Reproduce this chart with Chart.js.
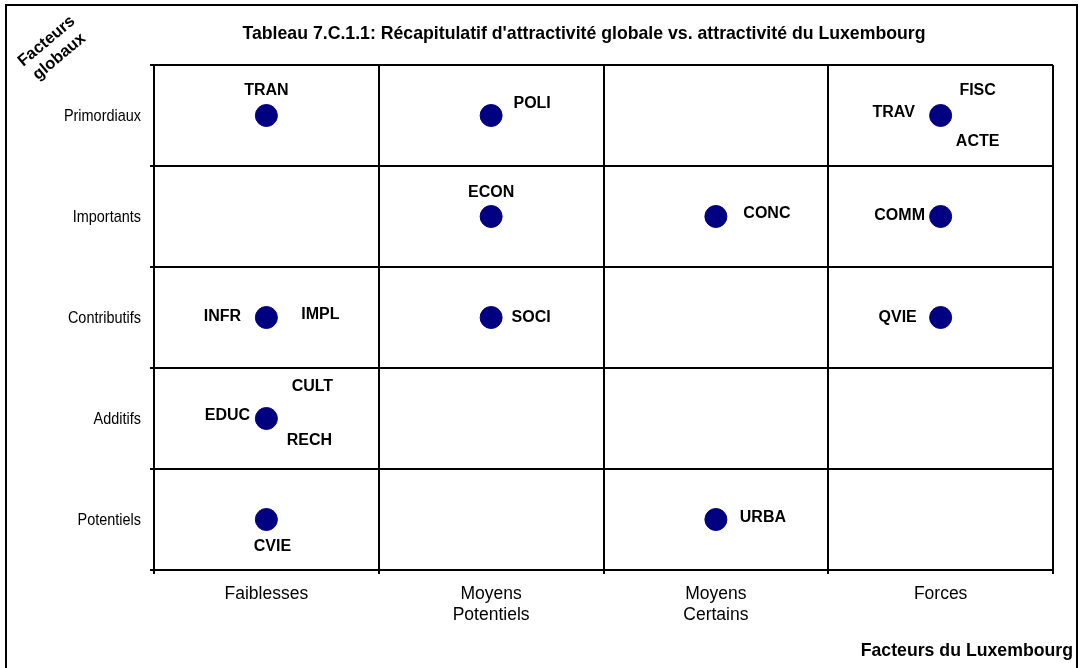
<!DOCTYPE html>
<html>
<head>
<meta charset="utf-8">
<script src="https://cdn.jsdelivr.net/npm/chart.js@4.4.1/dist/chart.umd.min.js"></script>
<style>
  html, body { margin: 0; padding: 0; background: #fff; }
  #conteneur { width: 1080px; height: 668px; position: relative; }
</style>
</head>
<body>
<div id="conteneur"><canvas id="attractiviteChart"></canvas></div>
<script>
// Catégories des deux axes
const facteursLux = ["Faiblesses", "Moyens Potentiels", "Moyens Certains", "Forces"];
const facteursGlobaux = ["Primordiaux", "Importants", "Contributifs", "Additifs", "Potentiels"];

// Un point par case occupée
const pointsX = ["Faiblesses", "Moyens Potentiels", "Forces",
                 "Moyens Potentiels", "Moyens Certains", "Forces",
                 "Faiblesses", "Moyens Potentiels", "Forces",
                 "Faiblesses",
                 "Faiblesses", "Moyens Certains"];
const pointsY = ["Primordiaux", "Primordiaux", "Primordiaux",
                 "Importants", "Importants", "Importants",
                 "Contributifs", "Contributifs", "Contributifs",
                 "Additifs",
                 "Potentiels", "Potentiels"];
// Codes des facteurs rattachés à chaque point
const etiquettes = [["TRAN"], ["POLI"], ["FISC", "TRAV", "ACTE"],
                    ["ECON"], ["CONC"], ["COMM"],
                    ["INFR", "IMPL"], ["SOCI"], ["QVIE"],
                    ["CULT", "EDUC", "RECH"],
                    ["CVIE"], ["URBA"]];

// placement des codes autour du point (px)
const decalages = [[[0, -25]], [[41, -12]], [[37, -25], [-47, -3], [37, 26]],
                   [[0, -24]], [[51, -3]], [[-41, -1]],
                   [[-44, -1], [54, -3]], [[40, 0]], [[-43, 0]],
                   [[46, -32], [-39, -3], [43, 22]],
                   [[6, 27]], [[47, -2]]];

const titre = "Tableau 7.C.1.1: Récapitulatif d'attractivité globale vs. attractivité du Luxembourg";
const police = '"Liberation Sans", Arial, sans-serif';

const textesPlugin = {
    id: "textesPlugin",
    afterDatasetsDraw(chart) {
        const ctx = chart.ctx;
        const meta = chart.getDatasetMeta(0);
        ctx.save();
        ctx.fillStyle = "#000";
        ctx.font = "bold 16px " + police;
        ctx.textAlign = "center";
        ctx.textBaseline = "middle";
        meta.data.forEach((pt, i) => {
            etiquettes[i].forEach((txt, j) => {
                const [dx, dy] = decalages[i][j];
                ctx.fillText(txt, pt.x + dx, pt.y + dy);
            });
        });
        ctx.restore();
    },
    afterDraw(chart) {
        const ctx = chart.ctx;
        ctx.save();
        // cadre extérieur
        ctx.strokeStyle = "#000";
        ctx.lineWidth = 2;
        ctx.strokeRect(6, 5, 1071, 670);

        // libellés de l'axe vertical, police étroite (simulée)
        const sy = chart.scales.y;
        ctx.fillStyle = "#000";
        ctx.font = "17px " + police;
        ctx.textAlign = "right";
        ctx.textBaseline = "middle";
        sy.ticks.forEach((t, i) => {
            ctx.save();
            ctx.translate(sy.right - 13, sy.getPixelForTick(i) + 1);
            ctx.scale(0.85, 1);
            ctx.fillText(sy.getLabelForValue(t.value), 0, 0);
            ctx.restore();
        });

        ctx.font = "bold 17.7px " + police;
        ctx.textAlign = "center";
        ctx.fillText(titre, 584, 34);

        ctx.textAlign = "right";
        ctx.fillText("Facteurs du Luxembourg", 1073, 651);

        // titre de l'axe vertical, en diagonale
        ctx.font = "bold 16.5px " + police;
        ctx.translate(53, 49);
        ctx.rotate(-40 * Math.PI / 180);
        ctx.textAlign = "center";
        ctx.fillText("Facteurs", 0, -10);
        ctx.fillText("globaux", 0, 10);
        ctx.restore();
    }
};

const ctx1 = document.getElementById("attractiviteChart").getContext("2d");
new Chart(ctx1, {
    type: "scatter",
    data: {
        datasets: [{
            data: pointsX.map((x, i) => ({ x: x, y: pointsY[i] })),
            backgroundColor: "#000080",
            borderColor: "#000080",
            pointRadius: 11,
            pointHoverRadius: 11
        }]
    },
    options: {
        responsive: true,
        maintainAspectRatio: false,
        animation: false,
        layout: { padding: { top: 65, right: 27, left: 0, bottom: 0 } },
        plugins: {
            legend: { display: false },
            tooltip: { enabled: false }
        },
        scales: {
            x: {
                type: "category",
                labels: facteursLux,
                offset: true,
                grid: { offset: true, color: "#000", lineWidth: 2, tickLength: 4 },
                border: { color: "#000", width: 2 },
                ticks: {
                    color: "#000",
                    padding: 10,
                    maxRotation: 0,
                    font: { family: police, size: 17.5 },
                    lineHeight: 1.15,
                    callback: function (v) { return this.getLabelForValue(v).split(" "); }
                },
                afterFit(s) { s.height = 98; }
            },
            y: {
                type: "category",
                labels: facteursGlobaux,
                offset: true,
                grid: { offset: true, color: "#000", lineWidth: 2, tickLength: 4 },
                border: { color: "#000", width: 2 },
                ticks: {
                    color: "rgba(0,0,0,0)", // dessinés par le plugin
                    padding: 9,
                    font: { family: police, size: 17 }
                },
                afterFit(s) { s.width = 154; }
            }
        }
    },
    plugins: [textesPlugin]
});
</script>
</body>
</html>
